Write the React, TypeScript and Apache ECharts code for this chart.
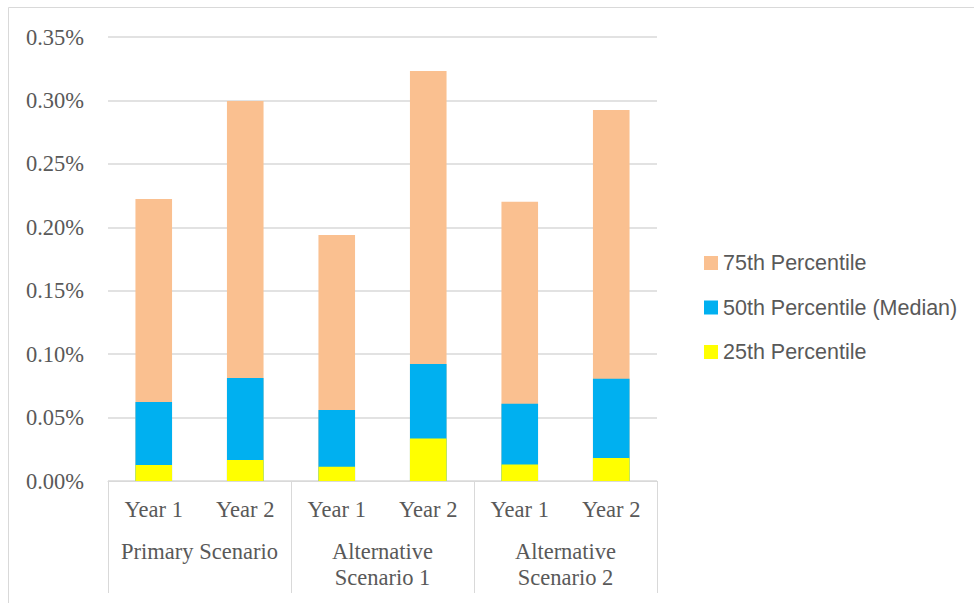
import React, { useEffect, useRef } from "react";
import * as echarts from "echarts";

const years = ["Year 1", "Year 2", "Year 1", "Year 2", "Year 1", "Year 2"];
const scenarios = ["Primary Scenario", "Alternative\nScenario 1", "Alternative\nScenario 2"];
const p75 = [0.2222, 0.2995, 0.1939, 0.3232, 0.2202, 0.2925];
const p50 = [0.0623, 0.0812, 0.056, 0.0922, 0.0609, 0.0807];
const p25 = [0.0126, 0.0166, 0.0113, 0.0336, 0.0131, 0.0181];
const seriesNames = ["75th Percentile", "50th Percentile (Median)", "25th Percentile"];
const colors = ["#FAC090", "#00B0F0", "#FFFF00"];

export default function App() {
  const ref = useRef<HTMLDivElement>(null);
  useEffect(() => {
    const chart = echarts.init(ref.current!, undefined, { renderer: "svg" });
    const serif = "'Liberation Serif', 'Times New Roman', serif";
    const grey = "#d9d9d9";
    chart.setOption({
      animation: false,
      graphic: [
        {
          type: "rect",
          shape: { x: 8.5, y: 7.5, width: 1000, height: 700 },
          style: { fill: "none", stroke: grey, lineWidth: 1 },
          silent: true,
        },
      ],
      grid: { left: 108, right: 317, top: 37, bottom: 122 },
      legend: {
        orient: "vertical",
        left: 699,
        top: 247,
        itemWidth: 14,
        itemHeight: 14,
        itemGap: 22.5,
        icon: "rect",
        data: seriesNames,
        textStyle: {
          fontFamily: "'Liberation Sans', Arial, sans-serif",
          fontSize: 21.5,
          color: "#595959",
        },
      },
      xAxis: [
        {
          type: "category",
          data: years,
          position: "bottom",
          axisLine: { show: true, lineStyle: { color: grey, width: 1 } },
          axisTick: { show: false },
          axisLabel: {
            interval: 0,
            margin: 28.5,
            verticalAlign: "middle",
            fontFamily: serif,
            fontSize: 22.5,
            color: "#595959",
          },
        },
        {
          type: "category",
          data: scenarios,
          position: "bottom",
          offset: 0,
          axisLine: { show: false },
          axisTick: { show: true, length: 112, interval: 0, lineStyle: { color: grey, width: 1 } },
          axisLabel: {
            interval: 0,
            margin: 57,
            verticalAlign: "top",
            lineHeight: 26,
            fontFamily: serif,
            fontSize: 22.5,
            color: "#595959",
          },
        },
      ],
      yAxis: {
        type: "value",
        min: 0,
        max: 0.35,
        interval: 0.05,
        axisLine: { show: false },
        axisTick: { show: false },
        splitLine: { lineStyle: { color: grey, width: 1.5 } },
        axisLabel: {
          margin: 24,
          formatter: (v: number) => v.toFixed(2) + "%",
          fontFamily: serif,
          fontSize: 22.5,
          color: "#595959",
        },
      },
      series: [
        {
          name: seriesNames[0],
          type: "bar",
          data: p75,
          barWidth: "40%",
          barGap: "-100%",
          itemStyle: { color: colors[0] },
        },
        {
          name: seriesNames[1],
          type: "bar",
          data: p50,
          barWidth: "40%",
          barGap: "-100%",
          itemStyle: { color: colors[1] },
        },
        {
          name: seriesNames[2],
          type: "bar",
          data: p25,
          barWidth: "40%",
          barGap: "-100%",
          itemStyle: { color: colors[2] },
        },
      ],
    });
    return () => chart.dispose();
  }, []);
  return (
    <div
      ref={ref}
      style={{ position: "fixed", left: 0, top: 0, width: 974, height: 603, background: "#fff" }}
    />
  );
}
